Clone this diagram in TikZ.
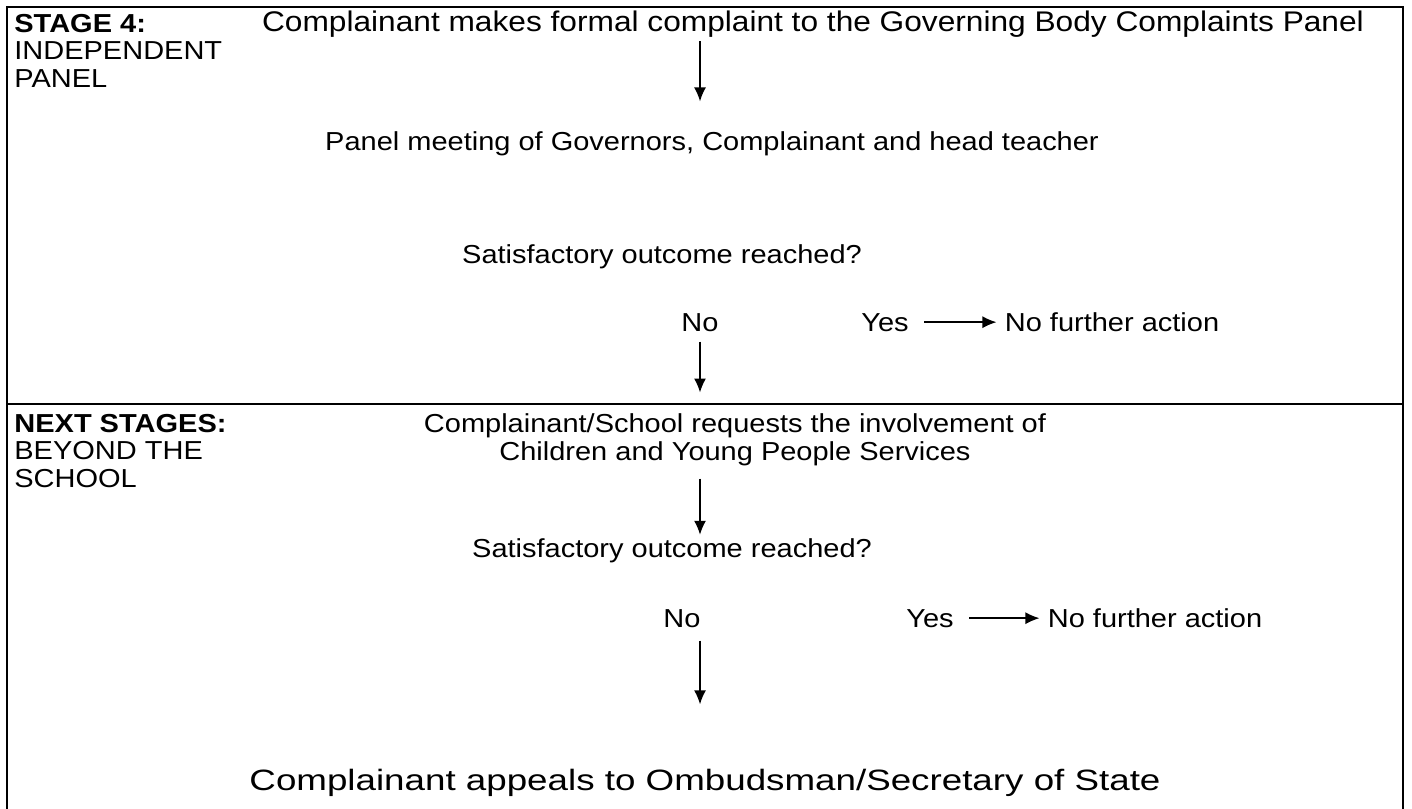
\documentclass[tikz,border=0pt]{standalone}
\usepackage{fontspec}
\setmainfont{Liberation Sans}[FakeStretch=1.115]
\newfontfamily\widefont{Liberation Sans}[FakeStretch=1.25]
\usetikzlibrary{arrows.meta}

\tikzstyle{txt} = [inner sep=1.5pt, font=\fontsize{13}{13.8}\selectfont]
\tikzstyle{stagelbl} = [txt, align=left, anchor=north west]
\tikzstyle{arrow} = [line width=0.7pt, -{Latex[length=7pt,width=6pt]}]
\tikzstyle{frame} = [line width=1pt]

\begin{document}
\begin{tikzpicture}[x=0.5pt, y=-0.5pt]
        \useasboundingbox (0,0) rectangle (1412,808);
        \draw [frame] (7,7) rectangle (1403,830);
        \draw [frame] (7,404) -- (1403,404);

        % stage 4
        \node (stage) [stagelbl] at (11,10.5) {\textbf{STAGE 4:}\\INDEPENDENT\\PANEL};
        \node (formal) [txt, anchor=base, font=\fontsize{14.2}{13.8}\selectfont] at (813,32) {Complainant makes formal complaint to the Governing Body Complaints Panel};
        \node (meeting) [txt, anchor=base] at (712,150) {Panel meeting of Governors, Complainant and head teacher};
        \node (sat) [txt, anchor=base] at (662,263) {Satisfactory outcome reached?};
        \node (no) [txt, anchor=base] at (700,331) {No};
        \node (yes) [txt, anchor=base] at (885,331) {Yes};
        \node (nfa) [txt, anchor=base] at (1112,331) {No further action};

        % next stages
        \node (next) [stagelbl] at (11,410.5) {\textbf{NEXT STAGES:}\\BEYOND THE\\SCHOOL};
        \node (cyps) [txt, align=center, anchor=north] at (735,410.5) {Complainant/School requests the involvement of\\Children and Young People Services};
        \node (sat2) [txt, anchor=base] at (672,557) {Satisfactory outcome reached?};
        \node (no2) [txt, anchor=base] at (682,627) {No};
        \node (yes2) [txt, anchor=base] at (930,627) {Yes};
        \node (nfa2) [txt, anchor=base] at (1155,627) {No further action};
        \node (ombud) [txt, anchor=base, font=\widefont\fontsize{14.7}{13.8}\selectfont] at (705,790) {Complainant appeals to Ombudsman/Secretary of State};

        \draw [arrow, shorten >=13.2pt] (no |- formal.south) -- (no |- meeting.north);
        \draw [arrow, shorten <=3.5pt, shorten >=9pt] (no.south) -- (no |- cyps.north);
        \draw [arrow, shorten <=6pt, shorten >=2.5pt] (yes.east) -- (yes.east -| nfa.west);
        \draw [arrow, shorten <=4.75pt] (no |- cyps.south) -- (no |- sat2.north);
        \draw [arrow, shorten <=6pt, shorten >=2.5pt] (yes2.east) -- (yes2.east -| nfa2.west);
        \draw [arrow, shorten <=5pt, shorten >=30.5pt] (no |- no2.south) -- (no |- ombud.north);

\end{tikzpicture}
\end{document}
